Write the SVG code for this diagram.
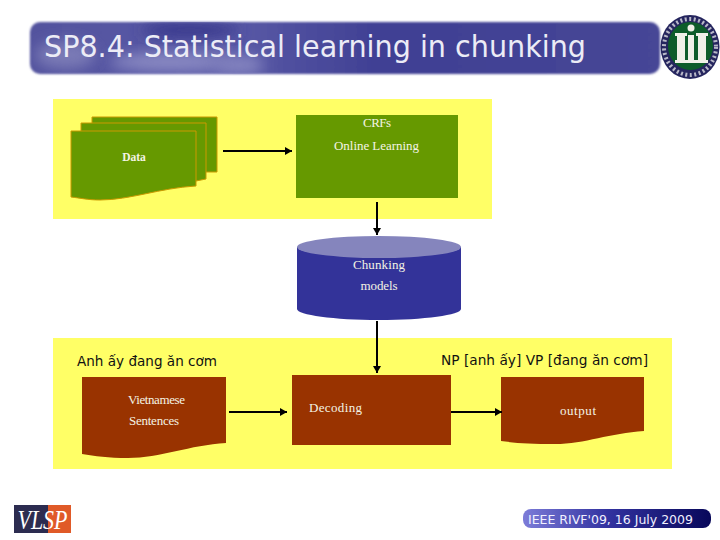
<svg xmlns="http://www.w3.org/2000/svg" width="720" height="540" viewBox="0 0 720 540">
<style>
.lbl{font-family:"Liberation Serif","DejaVu Serif",serif;font-size:13px;fill:#f4f4e4;text-anchor:middle}
.ex{font-family:"DejaVu Sans","Liberation Sans",sans-serif;font-size:13.5px;fill:#111}
.conn{fill:none;stroke:#000;stroke-width:2;marker-end:url(#ah)}
.green{fill:#669900}
.brown{fill:#993300}
.doc{stroke:#cc9900;stroke-width:1}
</style>
<defs>
<marker id="ah" markerUnits="userSpaceOnUse" markerWidth="8" markerHeight="8" refX="7" refY="4" orient="auto"><path d="M0 0L7 4L0 8Z" fill="#000"/></marker>
<linearGradient id="bar" x1="0" x2="1" y1="0" y2="0"><stop offset="0" stop-color="#52529e"/><stop offset=".3" stop-color="#5c5ca8"/><stop offset=".55" stop-color="#404094"/><stop offset="1" stop-color="#464696"/></linearGradient>
<linearGradient id="pill" x1="0" x2="1" y1="0" y2="0"><stop offset="0" stop-color="#7c7cd8"/><stop offset=".45" stop-color="#3232a0"/><stop offset="1" stop-color="#08085a"/></linearGradient>
<filter id="soft" x="-20%" y="-50%" width="140%" height="200%"><feGaussianBlur stdDeviation="7"/></filter>
<filter id="edge" x="-5%" y="-20%" width="110%" height="140%"><feGaussianBlur stdDeviation="1"/></filter>
<clipPath id="barclip"><rect x="30" y="22" width="630" height="52" rx="10"/></clipPath>
</defs>
<rect width="720" height="540" fill="#fff"/>
<g id="title">
<rect x="30" y="22" width="630" height="52" rx="10" fill="url(#bar)" filter="url(#edge)"/>
<g clip-path="url(#barclip)">
<ellipse cx="190" cy="30" rx="50" ry="8" fill="#38388c" filter="url(#soft)"/>
<ellipse cx="170" cy="62" rx="60" ry="9" fill="#8c8cc4" filter="url(#soft)"/>
<ellipse cx="65" cy="55" rx="30" ry="14" fill="#7a7ab6" filter="url(#soft)"/>
<ellipse cx="240" cy="65" rx="24" ry="10" fill="#8484c0" filter="url(#soft)"/>
</g>
<text x="44" y="57" font-family="'DejaVu Sans','Liberation Sans',sans-serif" font-size="31" fill="#ececf6" textLength="542" lengthAdjust="spacingAndGlyphs">SP8.4: Statistical learning in chunking</text>
</g>
<g id="seal">
<ellipse cx="690" cy="47" rx="29.500" ry="32" fill="#25255e"/>
<ellipse cx="690" cy="47" rx="26" ry="28" fill="none" stroke="#b8b8c8" stroke-width="4" stroke-dasharray="2 2.500"/>
<ellipse cx="690.500" cy="46" rx="22.500" ry="24" fill="#0d5c2a"/>
<g fill="#f0f0e8"><rect x="677" y="35" width="8" height="25"/><rect x="688" y="35" width="6" height="25"/><rect x="698" y="35" width="8" height="25"/><rect x="675" y="33" width="12" height="3"/><rect x="696" y="33" width="12" height="3"/><rect x="675" y="60" width="33" height="3"/><circle cx="691" cy="28" r="3.500"/></g>
</g>
<rect id="panel-top" x="53" y="99" width="439" height="120" fill="#ffff66"/>
<rect id="panel-bottom" x="53" y="338" width="619" height="131" fill="#ffff66"/>
<g id="data">
<path class="green doc" d="M92 117H217V172H92Z"/>
<path class="green doc" d="M81 123H206V179L196 181H81Z"/>
<path class="green doc" d="M71 131H196V186C160 188 130 200 100 200C88 200 80 198 71 197Z"/>
<text x="134" y="161" font-family="'Liberation Serif',serif" font-size="11.5" font-weight="bold" fill="#f4f4e4" text-anchor="middle">Data</text>
</g>
<g id="crf">
<rect class="green" x="296" y="115" width="162" height="83"/>
<text class="lbl" x="377" y="127" textLength="28">CRFs</text>
<text class="lbl" x="376.500" y="150" textLength="85">Online Learning</text>
</g>
<g id="models">
<path d="M297 247V309C297 315 334 320 379 320S461 315 461 309V247Z" fill="#333399"/>
<ellipse cx="379" cy="247" rx="82" ry="11" fill="#8585bd"/>
<text class="lbl" x="379" y="269" textLength="52">Chunking</text>
<text class="lbl" x="379" y="290" textLength="37">models</text>
</g>
<g id="input">
<text class="ex" x="77" y="366" textLength="140" lengthAdjust="spacingAndGlyphs">Anh ấy đang ăn cơm</text>
<path class="brown" d="M82 377H226V443C190 445 160 458 128 458C108 458 95 456 82 454Z"/>
<text class="lbl" x="156.500" y="404" textLength="57">Vietnamese</text>
<text class="lbl" x="154" y="425" textLength="50">Sentences</text>
</g>
<g id="decoding">
<rect class="brown" x="292" y="375" width="159" height="70"/>
<text class="lbl" x="335.500" y="412" textLength="53">Decoding</text>
</g>
<g id="output">
<text class="ex" x="441" y="365" textLength="207" lengthAdjust="spacingAndGlyphs">NP [anh ấy] VP [đang ăn cơm]</text>
<path class="brown" d="M501 377H644V431C610 433 585 444 555 444C530 444 515 443 501 441Z"/>
<text class="lbl" x="578" y="415" textLength="36">output</text>
</g>
<g id="connectors">
<path class="conn" d="M223 151H292"/>
<path class="conn" d="M377 202V235"/>
<path class="conn" d="M377 321V373"/>
<path class="conn" d="M229 412H287"/>
<path class="conn" d="M451 412H502"/>
</g>
<g id="vlsp">
<rect x="14" y="505" width="34" height="28" fill="#2c2c50"/>
<rect x="48" y="505" width="23" height="28" fill="#e05a28"/>
<text x="42.500" y="529" font-family="'Liberation Serif',serif" font-style="italic" font-size="28" fill="#fff" text-anchor="middle" textLength="50" lengthAdjust="spacingAndGlyphs">VLSP</text>
</g>
<g id="footer">
<rect x="523" y="509" width="188" height="19" rx="8" fill="url(#pill)"/>
<text x="528" y="524" font-family="'DejaVu Sans','Liberation Sans',sans-serif" font-size="12" fill="#f0f0ff" textLength="165" lengthAdjust="spacingAndGlyphs">IEEE RIVF'09, 16 July 2009</text>
</g>
</svg>
